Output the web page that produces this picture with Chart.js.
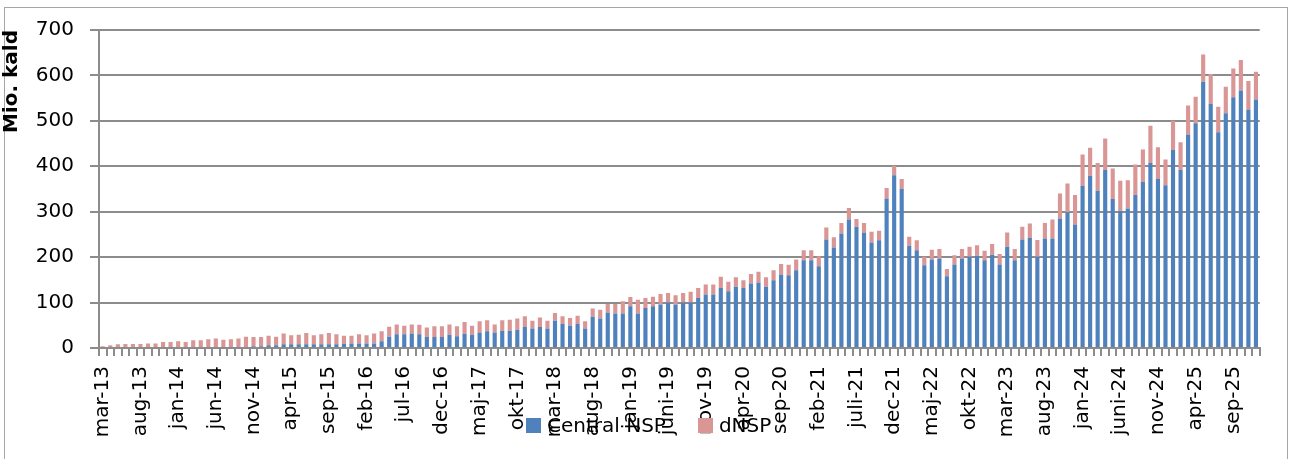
<!DOCTYPE html>
<html>
<head>
<meta charset="utf-8">
<script src="https://cdn.jsdelivr.net/npm/chart.js@4.4.1/dist/chart.umd.min.js"></script>
<style>
body { margin: 0; background: #fff; overflow: hidden; }
#wrap { position: relative; width: 1290px; height: 459px; overflow: hidden; }
#frame { position: absolute; left: 4px; top: 7px; width: 1282px; height: 480px; border: 1px solid #a6a6a6; }
#graf { position: absolute; left: 0; top: 0; }
#legende { position: absolute; left: 526px; top: 413px; font-family: "DejaVu Sans", sans-serif; font-size: 20px; color: #000; white-space: nowrap; }
#legende span.boks { display: inline-block; width: 15px; height: 15px; vertical-align: -1px; margin-right: 6px; }
#legende span.tekst { margin-right: 32px; }
</style>
</head>
<body>
<div id="wrap">
  <div id="frame"></div>
  <canvas id="graf" width="1290" height="459"></canvas>
  <div id="legende"></div>
</div>
<script>
// Data (mio. kald pr. måned, mar-13 til dec-25)
const maaneder = ['jan','feb','mar','apr','maj','jun','jul','aug','sep','okt','nov','dec'];

const centralNSP = [
  0,0,0,0,0,0,0,0,0,0, 0,0,0,0,0,0,1,1,1,2,
  4,4,6,6,8,8,8,8,8,8, 8,8,9,10,10,10,10,15,25,30,
  30,32,30,24,24,24,29,26,31,29, 34,37,34,38,38,40,46,43,46,43,
  60,53,49,53,43,69,65,78,76,76, 92,76,88,92,96,100,96,100,100,110,
  118,118,132,125,135,132,142,144,135,149, 162,160,171,193,193,180,239,221,252,283,
  267,254,232,237,329,380,350,225,215,182, 195,197,158,184,197,201,203,193,205,184,
  223,193,239,242,201,241,241,285,299,272, 357,379,346,392,328,302,307,337,366,407,
  372,358,436,392,470,495,586,537,475,517, 552,567,525,547
];

const dNSP = [
  4,6,8,9,9,9,10,10,13,13, 15,13,17,17,19,21,17,18,20,23,
  20,20,21,19,24,20,21,25,20,22, 25,22,18,17,20,18,22,22,22,22,
  19,20,21,21,24,24,23,22,26,20, 25,24,18,23,24,25,24,17,21,17,
  17,17,17,18,16,18,19,19,21,27, 20,30,22,21,23,21,20,21,24,22,
  22,22,25,21,21,17,21,24,21,22, 23,23,24,22,22,22,26,23,23,25,
  17,21,24,21,23,21,22,20,22,19, 21,21,16,20,21,22,23,21,24,23,
  31,25,28,32,37,34,42,55,63,65, 69,62,61,69,67,66,62,67,71,82,
  70,57,64,61,64,58,60,66,56,58, 63,67,63,61
];

// Etiketter der vises på x-aksen (hver 5. måned)
const akseEtiketter = [
  'mar-13','aug-13','jan-14','jun-14','nov-14','apr-15','sep-15','feb-16','jul-16','dec-16',
  'maj-17','okt-17','mar-18','aug-18','jan-19','juni-19','nov-19','apr-20','sep-20','feb-21',
  'juli-21','dec-21','maj-22','okt-22','mar-23','aug-23','jan-24','juni-24','nov-24','apr-25','sep-25'
];

const serieNavne = ['Central NSP', 'dNSP'];
const farver = ['#4f81bd', '#d99694'];

// kategorier: en pr. måned fra marts 2013
const kategorier = centralNSP.map(function(v, i) {
  const m = (2 + i) % 12;
  const aar = 13 + Math.floor((2 + i) / 12);
  return maaneder[m] + '-' + aar;
});

const gitterFarve = '#8c8c8c';

const ctx = document.getElementById('graf').getContext('2d');

const graf = new Chart(ctx, {
  type: 'bar',
  data: {
    labels: kategorier,
    datasets: [
      { label: serieNavne[0], data: centralNSP, backgroundColor: farver[0], barPercentage: 0.55, categoryPercentage: 1 },
      { label: serieNavne[1], data: dNSP, backgroundColor: farver[1], barPercentage: 0.55, categoryPercentage: 1 }
    ]
  },
  options: {
    responsive: false,
    animation: false,
    layout: { padding: { left: 0, top: 30, right: 20, bottom: 0 } },
    plugins: {
      legend: { display: false },
      tooltip: { enabled: false }
    },
    scales: {
      x: {
        stacked: true,
        offset: true,
        afterFit: function(scale) { scale.height = 111; },
        grid: {
          offset: true,
          drawOnChartArea: false,
          drawTicks: true,
          tickLength: 8,
          color: gitterFarve,
          lineWidth: 2
        },
        border: { color: gitterFarve, width: 2 },
        ticks: {
          autoSkip: false,
          minRotation: 90,
          maxRotation: 90,
          padding: 10,
          color: '#000',
          font: { family: 'DejaVu Sans', size: 20 },
          callback: function(value, index) {
            return index % 5 === 0 ? (akseEtiketter[index / 5] || '') : '';
          }
        }
      },
      y: {
        stacked: true,
        min: 0,
        max: 700,
        afterFit: function(scale) { scale.width = 99; },
        grid: {
          color: gitterFarve,
          lineWidth: 2,
          tickLength: 9
        },
        border: { color: gitterFarve, width: 2 },
        ticks: {
          stepSize: 100,
          padding: 16,
          color: '#000',
          font: { family: 'DejaVu Sans', size: 20 }
        },
        title: {
          display: true,
          text: 'Mio. kald',
          align: 'end',
          color: '#000',
          padding: { top: 0, bottom: 0 },
          font: { family: 'DejaVu Sans', size: 20, weight: 'bold' }
        }
      }
    }
  }
});

// forklaring lagt oven på aksen som i originalen
const legende = document.getElementById('legende');
serieNavne.forEach(function(navn, i) {
  legende.innerHTML += '<span class="boks" style="background:' + farver[i] + '"></span><span class="tekst">' + navn + '</span>';
});
</script>
</body>
</html>
